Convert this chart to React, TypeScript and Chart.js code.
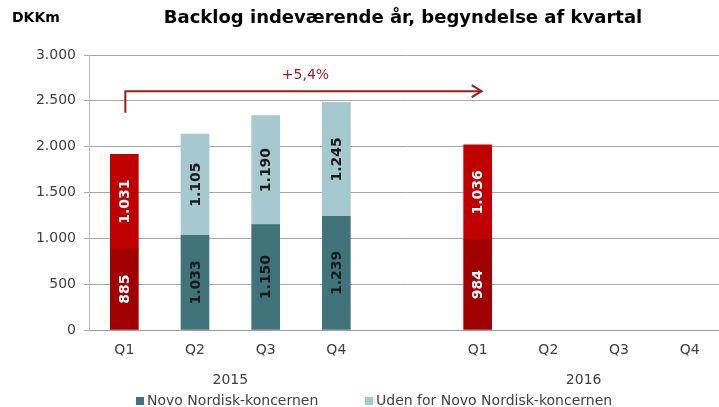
import React, { useEffect, useRef } from "react";
import { Chart, registerables } from "chart.js";

Chart.register(...registerables);

const CATEGORIES = ["Q1", "Q2", "Q3", "Q4", "", "Q1", "Q2", "Q3", "Q4"];
const YEARS = [
  { label: "2015", from: 0, to: 3 },
  { label: "2016", from: 5, to: 8 },
];
const NOVO = [885, 1033, 1150, 1239, null, 984, null, null, null];
const UDEN = [1031, 1105, 1190, 1245, null, 1036, null, null, null];
// which bars are highlighted red (start-of-year quarters)
const HIGHLIGHT = [true, false, false, false, false, true, false, false, false];
const SERIES_LABELS = ["Novo Nordisk-koncernen", "Uden for Novo Nordisk-koncernen"];
const Y_TICKS = { min: 0, max: 3000, step: 500 };
const TITLE = "Backlog indeværende år, begyndelse af kvartal";
const UNIT = "DKKm";
const ARROW = { fromIndex: 0, toIndex: 5, startValue: 2370, lineValue: 2605, labelValue: 2780, label: "+5,4%" };

const C_TEAL = "#40737A";
const C_LIGHT = "#A5C9CE";
const C_DARKRED = "#A00000";
const C_RED = "#C00000";
const C_ARROW = "#9E1B1B";
const C_TEXT = "#404040";
const FONT = "'DejaVu Sans', Verdana, sans-serif";

const fmt = (v: number) => String(v).replace(/\B(?=(\d{3})+(?!\d))/g, ".");

const overlayPlugin = {
  id: "overlay",
  afterDatasetsDraw(chart: any) {
    const ctx = chart.ctx;
    const xs = chart.scales.x;
    const ys = chart.scales.y;
    // data labels
    chart.data.datasets.forEach((ds: any, di: number) => {
      const meta = chart.getDatasetMeta(di);
      meta.data.forEach((el: any, i: number) => {
        const v = ds.data[i];
        if (v == null) return;
        const { x, y, base } = el.getProps(["x", "y", "base"], true);
        const cy = (y + base) / 2;
        ctx.save();
        ctx.translate(x, cy);
        ctx.rotate(-Math.PI / 2);
        ctx.font = `bold 14px ${FONT}`;
        ctx.fillStyle = HIGHLIGHT[i] ? "#FFFFFF" : "#1A1A1A";
        ctx.textAlign = "center";
        ctx.textBaseline = "middle";
        ctx.fillText(fmt(v), 0, 1);
        ctx.restore();
      });
    });
    // arrow annotation
    const x0 = xs.getPixelForValue(ARROW.fromIndex) + 1;
    const x1 = xs.getPixelForValue(ARROW.toIndex) + 4;
    const yS = ys.getPixelForValue(ARROW.startValue);
    const yL = ys.getPixelForValue(ARROW.lineValue);
    ctx.save();
    ctx.strokeStyle = C_ARROW;
    ctx.lineWidth = 2;
    ctx.beginPath();
    ctx.moveTo(x0, yS);
    ctx.lineTo(x0, yL);
    ctx.lineTo(x1, yL);
    ctx.stroke();
    ctx.beginPath();
    ctx.moveTo(x1 - 10, yL - 6);
    ctx.lineTo(x1, yL);
    ctx.lineTo(x1 - 10, yL + 6);
    ctx.stroke();
    ctx.fillStyle = C_ARROW;
    ctx.font = `14px ${FONT}`;
    ctx.textAlign = "center";
    ctx.textBaseline = "middle";
    ctx.fillText(ARROW.label, (x0 + x1) / 2 + 2, ys.getPixelForValue(ARROW.labelValue));
    ctx.restore();
  },
  afterDraw(chart: any) {
    const ctx = chart.ctx;
    const xs = chart.scales.x;
    ctx.save();
    // title & unit
    ctx.fillStyle = "#000";
    ctx.textBaseline = "middle";
    ctx.font = `bold 18px ${FONT}`;
    ctx.textAlign = "center";
    ctx.fillText(TITLE, 403, 18);
    ctx.font = `bold 14px ${FONT}`;
    ctx.textAlign = "left";
    ctx.fillText(UNIT, 12, 18);
    // year labels
    ctx.fillStyle = C_TEXT;
    ctx.font = `14px ${FONT}`;
    ctx.textAlign = "center";
    YEARS.forEach((g) => {
      const cx = (xs.getPixelForValue(g.from) + xs.getPixelForValue(g.to)) / 2;
      ctx.fillText(g.label, cx, 380);
    });
    // legend
    const legendColors = [C_TEAL, C_LIGHT];
    const starts = [136, 365];
    ctx.textAlign = "left";
    chart.data.datasets.forEach((ds: any, i: number) => {
      ctx.fillStyle = legendColors[i];
      ctx.fillRect(starts[i], 397, 8, 8);
      ctx.fillStyle = C_TEXT;
      ctx.fillText(ds.label, starts[i] + 11, 401);
    });
    ctx.restore();
  },
};

export default function App() {
  const ref = useRef<HTMLCanvasElement | null>(null);
  useEffect(() => {
    if (!ref.current) return;
    const chart = new Chart(ref.current, {
      type: "bar",
      data: {
        labels: CATEGORIES,
        datasets: [
          {
            label: SERIES_LABELS[0],
            data: NOVO,
            backgroundColor: HIGHLIGHT.map((h) => (h ? C_DARKRED : C_TEAL)),
            barThickness: 28,
          },
          {
            label: SERIES_LABELS[1],
            data: UDEN,
            backgroundColor: HIGHLIGHT.map((h) => (h ? C_RED : C_LIGHT)),
            barThickness: 28,
          },
        ],
      },
      options: {
        responsive: false,
        animation: false,
        layout: { padding: { top: 55, left: 0, right: 15, bottom: 0 } },
        plugins: { legend: { display: false }, title: { display: false }, tooltip: { enabled: false } },
        scales: {
          x: {
            stacked: true,
            afterFit: (s: any) => {
              s.height = 77;
            },
            grid: { display: true, drawOnChartArea: false, drawTicks: false },
            border: { display: true, color: "#9A9A9A", width: 1 },
            ticks: { color: C_TEXT, font: { family: FONT, size: 14 }, padding: 12, maxRotation: 0, autoSkip: false },
          },
          y: {
            stacked: true,
            min: Y_TICKS.min,
            max: Y_TICKS.max,
            afterFit: (s: any) => {
              s.width = 89;
            },
            grid: { color: "#A6A6A6", tickLength: 5, drawTicks: true },
            border: { display: true, color: "#BDBDBD", width: 1 },
            ticks: {
              stepSize: Y_TICKS.step,
              color: C_TEXT,
              padding: 8,
              font: { family: FONT, size: 14 },
              callback: (v: any) => fmt(Number(v)),
            },
          },
        },
      },
      plugins: [overlayPlugin],
    });
    return () => chart.destroy();
  }, []);
  return (
    <div style={{ position: "absolute", left: 0, top: 0, width: 719, height: 407, overflow: "hidden", background: "#fff" }}>
      <canvas ref={ref} width={740} height={407} style={{ display: "block" }} />
    </div>
  );
}
